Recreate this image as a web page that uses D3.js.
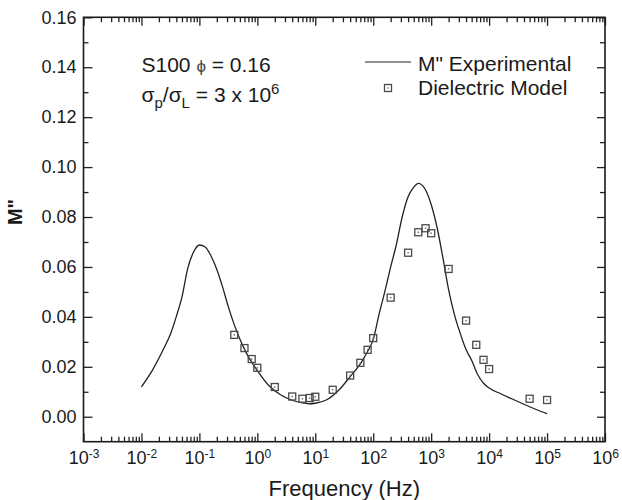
<!doctype html>
<html lang="en">
<head>
    <meta charset="UTF-8">
    <title>M'' vs frequency</title>
    <style>
        body { margin: 0; background: #fff; }
        svg { display: block; font-family: "Liberation Sans", Arial, sans-serif; }
        .axis text { font-size: 18px; fill: #1a1a1a; }
        .axis line { stroke: #222; stroke-width: 1.3; }
    </style>
</head>
<body>
<div class="chart"></div>
<script src="https://d3js.org/d3.v7.min.js"></script>
<script>
    // M'' experimental curve (frequency in Hz, value)
    const expFreq = [0.01, 0.0158, 0.0251, 0.0316, 0.0398, 0.0501, 0.0631, 0.0794, 0.1, 0.126,
        0.158, 0.2, 0.251, 0.316, 0.398, 0.501, 0.631, 0.794, 1, 1.58,
        2.51, 3.98, 6.31, 7.94, 10, 15.8, 25.1, 39.8, 63.1, 79.4,
        100, 126, 158, 200, 251, 316, 398, 501, 603, 794,
        1000, 1259, 1585, 1995, 2512, 3162, 3981, 5012, 6310, 7943,
        10000, 15849, 25119, 39811, 63096, 100000]
    const expValue = [0.012, 0.019, 0.028, 0.033, 0.040, 0.048, 0.0595, 0.0660, 0.0688, 0.0680,
        0.0645, 0.059, 0.052, 0.044, 0.037, 0.031, 0.026, 0.022, 0.0185, 0.0125,
        0.0088, 0.0066, 0.0055, 0.0052, 0.0054, 0.0068, 0.0105, 0.016, 0.022, 0.026,
        0.031, 0.041, 0.050, 0.060, 0.069, 0.080, 0.088, 0.092, 0.0935, 0.091,
        0.085, 0.076, 0.064, 0.051, 0.041, 0.0335, 0.027, 0.0225, 0.017, 0.0135,
        0.0115, 0.0092, 0.0071, 0.005, 0.003, 0.0012]

    // Dielectric model points
    const modelFreq = [0.4, 0.6, 0.8, 1, 2, 4, 6, 8, 10, 20, 40, 60, 80, 100, 200, 400,
        600, 800, 1000, 2000, 4000, 6000, 8000, 10000, 50000, 100000]
    const modelValue = [0.0328, 0.0275, 0.0231, 0.0196, 0.0119, 0.0081, 0.0072, 0.0075, 0.008,
        0.0108, 0.0165, 0.0216, 0.0268, 0.0315, 0.0477, 0.0657, 0.0739, 0.0755, 0.0735,
        0.0592, 0.0385, 0.0288, 0.0228, 0.0191, 0.0072, 0.0067]

    const xExponents = [-3, -2, -1, 0, 1, 2, 3, 4, 5, 6]
    const yMajorTicks = [0, 0.02, 0.04, 0.06, 0.08, 0.10, 0.12, 0.14, 0.16]
    const yMinorTicks = [0.01, 0.03, 0.05, 0.07, 0.09, 0.11, 0.13, 0.15]

    const W = 622, H = 500
    const plot = { left: 83.5, right: 605, top: 17.3, bottom: 441.7 }

    const svg = d3.select('.chart').append('svg')
        .attr('width', W)
        .attr('height', H)

    const x = d3.scaleLog().domain([1e-3, 1e6]).range([plot.left, plot.right])
    const y = d3.scaleLinear().domain([-0.01, 0.16]).range([plot.bottom, plot.top])

    const xMajor = xExponents.map(e => Math.pow(10, e))
    const xMinor = []
    xExponents.slice(0, -1).forEach(e => {
        for (let k = 2; k <= 9; k++) xMinor.push(k * Math.pow(10, e))
    })

    // bottom axis
    svg.append('g').attr('class', 'axis')
        .attr('transform', 'translate(0,' + plot.bottom + ')')
        .call(d3.axisBottom(x).tickValues(xMinor).tickSize(-5).tickFormat(''))
    const bottomMajor = svg.append('g').attr('class', 'axis')
        .attr('transform', 'translate(0,' + plot.bottom + ')')
        .call(d3.axisBottom(x).tickValues(xMajor).tickSize(-8.5).tickPadding(9.5))
    bottomMajor.selectAll('.tick text').each(function(d) {
        const t = d3.select(this)
        const e = Math.round(Math.log10(d))
        t.text(null)
        t.append('tspan').text('10')
        t.append('tspan').attr('dy', '-0.5em').style('font-size', '12px')
            .text(e < 0 ? '-' + Math.abs(e) : e)
    })

    // top axis
    svg.append('g').attr('class', 'axis')
        .attr('transform', 'translate(0,' + plot.top + ')')
        .call(d3.axisTop(x).tickValues(xMinor).tickSize(-5).tickFormat(''))
    svg.append('g').attr('class', 'axis')
        .attr('transform', 'translate(0,' + plot.top + ')')
        .call(d3.axisTop(x).tickValues(xMajor).tickSize(-8.5).tickFormat(''))

    // left axis
    svg.append('g').attr('class', 'axis')
        .attr('transform', 'translate(' + plot.left + ',0)')
        .call(d3.axisLeft(y).tickValues(yMinorTicks).tickSize(-5).tickFormat(''))
    svg.append('g').attr('class', 'axis')
        .attr('transform', 'translate(' + plot.left + ',0)')
        .call(d3.axisLeft(y).tickValues(yMajorTicks).tickSize(-9).tickPadding(7)
            .tickFormat(d3.format('.2f')))

    // right axis
    svg.append('g').attr('class', 'axis')
        .attr('transform', 'translate(' + plot.right + ',0)')
        .call(d3.axisRight(y).tickValues(yMinorTicks).tickSize(-5).tickFormat(''))
    svg.append('g').attr('class', 'axis')
        .attr('transform', 'translate(' + plot.right + ',0)')
        .call(d3.axisRight(y).tickValues(yMajorTicks).tickSize(-8).tickFormat(''))

    svg.selectAll('.axis .domain').remove()

    // frame
    svg.append('rect')
        .attr('x', plot.left)
        .attr('y', plot.top)
        .attr('width', plot.right - plot.left)
        .attr('height', plot.bottom - plot.top)
        .attr('fill', 'none')
        .attr('stroke', '#1a1a1a')
        .attr('stroke-width', 1.6)

    // experimental line
    const expData = expFreq.map((f, i) => ({ f: f, v: expValue[i] }))
    svg.append('path')
        .datum(expData)
        .attr('fill', 'none')
        .attr('stroke', '#222')
        .attr('stroke-width', 1.3)
        .attr('d', d3.line().x(d => x(d.f)).y(d => y(d.v)).curve(d3.curveMonotoneX))

    // model squares
    const modelData = modelFreq.map((f, i) => ({ f: f, v: modelValue[i] }))
    const marks = svg.append('g').selectAll('g')
        .data(modelData)
        .enter().append('g')
        .attr('transform', d => 'translate(' + x(d.f) + ',' + y(d.v) + ')')
    marks.append('rect')
        .attr('x', -3.5).attr('y', -3.5)
        .attr('width', 7).attr('height', 7)
        .attr('fill', 'none')
        .attr('stroke', '#4a4a4a')
        .attr('stroke-width', 1.3)
    marks.append('rect')
        .attr('x', -0.7).attr('y', -0.7)
        .attr('width', 1.4).attr('height', 1.4)
        .attr('fill', '#666')

    // legend
    const legend = svg.append('g')
    legend.append('line')
        .attr('x1', 365).attr('x2', 411)
        .attr('y1', 62).attr('y2', 62)
        .attr('stroke', '#222').attr('stroke-width', 1.2)
    legend.append('text')
        .attr('x', 418).attr('y', 71)
        .style('font-size', '21px').attr('fill', '#1a1a1a')
        .text('M" Experimental')
    const lg = legend.append('g').attr('transform', 'translate(388,88)')
    lg.append('rect')
        .attr('x', -3.5).attr('y', -3.5).attr('width', 7).attr('height', 7)
        .attr('fill', 'none').attr('stroke', '#4a4a4a').attr('stroke-width', 1.3)
    lg.append('rect')
        .attr('x', -0.7).attr('y', -0.7).attr('width', 1.4).attr('height', 1.4)
        .attr('fill', '#666')
    legend.append('text')
        .attr('x', 418).attr('y', 95)
        .style('font-size', '21px').attr('fill', '#1a1a1a')
        .text('Dielectric Model')

    // annotation
    const head = svg.append('text')
        .attr('x', 141.5).attr('y', 71.5)
        .style('font-size', '21px').attr('fill', '#1a1a1a')
    head.append('tspan').text('S100 ')
    head.append('tspan').style('font-size', '17px').attr('fill', '#444').text('\u03D5')
    head.append('tspan').text(' = 0.16')
    const note = svg.append('text')
        .attr('x', 141.5).attr('y', 102)
        .style('font-size', '21px').attr('fill', '#1a1a1a')
    note.append('tspan').text('\u03C3')
    note.append('tspan').attr('dy', 6).style('font-size', '15px').text('p')
    note.append('tspan').attr('dy', -6).text('/\u03C3')
    note.append('tspan').attr('dy', 6).style('font-size', '15px').text('L')
    note.append('tspan').attr('dy', -6).text(' = 3 x 10')
    note.append('tspan').attr('dy', -8).style('font-size', '15px').text('6')

    // axis titles
    svg.append('text')
        .attr('x', (plot.left + plot.right) / 2).attr('y', 496)
        .attr('text-anchor', 'middle')
        .style('font-size', '22px').attr('fill', '#1a1a1a')
        .text('Frequency (Hz)')
    svg.append('text')
        .attr('transform', 'translate(22,212) rotate(-90)')
        .attr('text-anchor', 'middle')
        .style('font-size', '20px').style('font-weight', 'bold').attr('fill', '#1a1a1a')
        .text('M"')
</script>
</body>
</html>
